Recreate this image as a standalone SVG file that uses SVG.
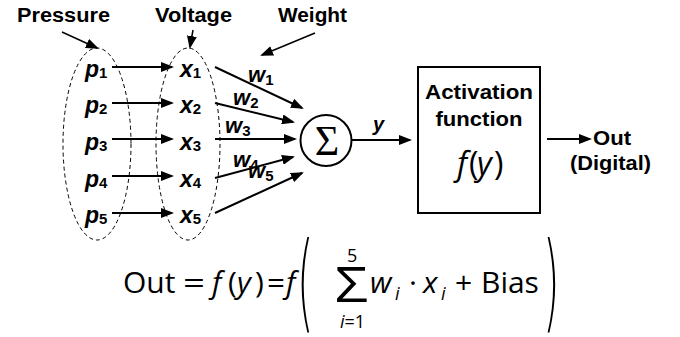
<svg xmlns="http://www.w3.org/2000/svg" width="680" height="337" viewBox="0 0 680 337">
<defs>
<marker id="ah" markerUnits="userSpaceOnUse" markerWidth="13" markerHeight="10" refX="11" refY="5" orient="auto">
<path d="M0,0 L13,5 L0,10 z" fill="#000"/>
</marker>
<style>
.lbl{font-family:"Liberation Sans",Arial,sans-serif;font-weight:bold;font-size:20px;fill:#000}
.var{font-family:"Liberation Sans",Arial,sans-serif;font-weight:bold;font-style:italic;font-size:23px;fill:#000}
.sub{font-size:15px;font-style:normal}
.math{font-family:"Open Sans","Noto Sans",sans-serif;font-size:30px;fill:#000}
.it{font-style:italic}
.sm{font-family:"Open Sans","Noto Sans",sans-serif;font-size:18px;fill:#000}
.paren{font-family:"DejaVu Sans",sans-serif;font-weight:200;font-size:106px;fill:#000}
.conn line{stroke:#000;stroke-width:2;marker-end:url(#ah)}
.dash{fill:none;stroke:#000;stroke-width:1;stroke-dasharray:4 3}
</style>
</defs>
<rect width="680" height="337" fill="#fff"/>

<g id="titles">
<text class="lbl" x="17" y="22" textLength="93" lengthAdjust="spacingAndGlyphs">Pressure</text>
<text class="lbl" x="155" y="22" textLength="77" lengthAdjust="spacingAndGlyphs">Voltage</text>
<text class="lbl" x="278" y="22" textLength="69" lengthAdjust="spacingAndGlyphs">Weight</text>
</g>

<g id="pressure-group">
<ellipse class="dash" cx="97" cy="144" rx="34" ry="96"/>
<text class="var" x="85" y="77">p<tspan class="sub" dy="1">1</tspan></text>
<text class="var" x="85" y="113">p<tspan class="sub" dy="1">2</tspan></text>
<text class="var" x="85" y="150">p<tspan class="sub" dy="1">3</tspan></text>
<text class="var" x="85" y="187">p<tspan class="sub" dy="1">4</tspan></text>
<text class="var" x="85" y="223">p<tspan class="sub" dy="1">5</tspan></text>
</g>

<g id="voltage-group">
<ellipse class="dash" cx="188" cy="144" rx="32" ry="96"/>
<text class="var" x="180" y="77">x<tspan class="sub" dy="1">1</tspan></text>
<text class="var" x="180" y="113">x<tspan class="sub" dy="1">2</tspan></text>
<text class="var" x="180" y="150">x<tspan class="sub" dy="1">3</tspan></text>
<text class="var" x="180" y="187">x<tspan class="sub" dy="1">4</tspan></text>
<text class="var" x="180" y="223">x<tspan class="sub" dy="1">5</tspan></text>
</g>

<g id="weights">
<text class="var" x="248" y="82" style="font-size:22px">w<tspan class="sub" dy="3">1</tspan></text>
<text class="var" x="233" y="105" style="font-size:22px">w<tspan class="sub" dy="3">2</tspan></text>
<text class="var" x="225" y="133" style="font-size:22px">w<tspan class="sub" dy="3">3</tspan></text>
<text class="var" x="233" y="167" style="font-size:22px">w<tspan class="sub" dy="3">4</tspan></text>
<text class="var" x="248" y="178" style="font-size:22px">w<tspan class="sub" dy="3">5</tspan></text>
</g>

<g id="sum">
<circle cx="326" cy="140.5" r="25.5" fill="#fff" stroke="#000" stroke-width="2"/>
<text x="327" y="155" text-anchor="middle" style="font-family:'Liberation Serif','Times New Roman',serif;font-size:42px">Σ</text>
</g>

<g id="activation">
<rect x="418" y="67" width="122" height="146" fill="#fff" stroke="#000" stroke-width="2"/>
<text class="lbl" x="479" y="99" text-anchor="middle" textLength="108" lengthAdjust="spacingAndGlyphs">Activation</text>
<text class="lbl" x="479" y="126" text-anchor="middle" textLength="87" lengthAdjust="spacingAndGlyphs">function</text>
<text class="math" y="175" style="font-size:32px"><tspan class="it" x="457">f</tspan><tspan x="469">(</tspan><tspan class="it" x="477">y</tspan><tspan x="494">)</tspan></text>
</g>

<g id="output">
<text class="lbl" x="593" y="145" textLength="38" lengthAdjust="spacingAndGlyphs">Out</text>
<text class="lbl" x="570" y="170" textLength="81" lengthAdjust="spacingAndGlyphs">(Digital)</text>
</g>

<text class="var" x="373" y="131" style="font-size:20px">y</text>

<g class="conn" id="connectors">
<line x1="62" y1="32" x2="97" y2="48" style="stroke-width:1.5"/>
<line x1="193" y1="30" x2="190" y2="47" style="stroke-width:1.5"/>
<line x1="315" y1="33" x2="262" y2="55" style="stroke-width:1.5"/>
<line x1="112" y1="67" x2="172" y2="67"/>
<line x1="112" y1="103" x2="172" y2="103"/>
<line x1="112" y1="139" x2="172" y2="139"/>
<line x1="112" y1="176" x2="172" y2="176"/>
<line x1="112" y1="213" x2="172" y2="213"/>
<line x1="215" y1="67" x2="302" y2="108"/>
<line x1="215" y1="103" x2="293" y2="122"/>
<line x1="215" y1="139" x2="295" y2="139"/>
<line x1="215" y1="178" x2="293" y2="157"/>
<line x1="215" y1="213" x2="302" y2="173"/>
<line x1="352" y1="140" x2="410" y2="140"/>
<line x1="547" y1="139" x2="590" y2="139"/>
</g>

<g id="formula">
<text class="math" x="123" y="293">Out</text>
<text class="math" x="183" y="293" textLength="22" lengthAdjust="spacingAndGlyphs">=</text>
<text class="math" y="293"><tspan class="it" x="212">f</tspan><tspan x="228">(</tspan><tspan class="it" x="237">y</tspan><tspan x="255">)</tspan></text>
<text class="math" x="267" y="293" textLength="18" lengthAdjust="spacingAndGlyphs">=</text>
<text class="math it" x="286" y="293">f</text>
<text class="paren" x="0" y="0" transform="translate(297,318) scale(0.4,1)">(</text>
<text class="math" x="335" y="302" style="font-size:49px" textLength="33" lengthAdjust="spacingAndGlyphs">Σ</text>
<text class="sm" x="347" y="262">5</text>
<text class="sm" x="340" y="328"><tspan class="it">i</tspan>=1</text>
<text class="math it" x="370" y="293">w</text>
<text class="sm it" x="395" y="300">i</text>
<text class="math" x="409" y="293">·</text>
<text class="math it" x="423" y="293">x</text>
<text class="sm it" x="441" y="300">i</text>
<text class="math" x="455" y="293">+</text>
<text class="math" x="481" y="293">Bias</text>
<text class="paren" x="0" y="0" transform="translate(543,318) scale(0.4,1)">)</text>
</g>
</svg>
